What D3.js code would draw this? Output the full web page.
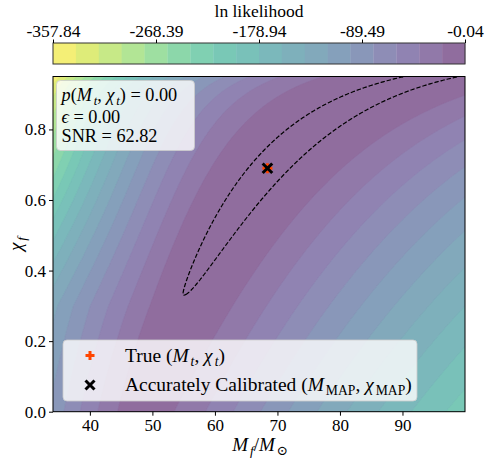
<!DOCTYPE html>
<html><head><meta charset="utf-8">
<script src="https://cdn.jsdelivr.net/npm/d3@7"></script>
<style>
body{margin:0;background:#fff}
svg{display:block}
</style>
</head><body><svg id="chart" width="489" height="462"></svg>
<script>
// ---------------- data ----------------
const colorbarTicks = [-357.84, -268.39, -178.94, -89.49, -0.04];
const colorbarTickLabels = ["-357.84", "-268.39", "-178.94", "-89.49", "-0.04"];
const lnLMin = -357.84, lnLMax = -0.04;
const nBands = 18;
const xTicks = [40, 50, 60, 70, 80, 90];
const yTicks = [0.0, 0.2, 0.4, 0.6, 0.8];
const massRange = [34.1, 100];
const spinRange = [0, 0.95];
const truePoint = [68.4, 0.69];      // True (M_t, chi_t)
const mapPoint = [68.4, 0.69];       // Accurately calibrated MAP
const statP = "0.00", statEps = "0.00", statSNR = "62.82";
const dashedLevel = -2.34;           // credible contour (dashed)
// likelihood-surface shape parameters (estimated from the contours)
const qnmFit = [1.5251, -1.1568, 0.1292];   // l=m=2 QNM frequency fit F(chi)
const leftWidth = [0.035, 0.8];             // at chi = 0.3 and chi = 0.95
const leftScale = [10, 565];
const rightWidth = 0.2, rightScale = 70.3;
const ridgeFall = [17.75, 15];              // below / above chi_t

const FONT = '"Liberation Serif", "DejaVu Serif", serif';

// ---------------- layout ----------------
const L = 53, R = 465, T = 76.5, B = 411.7;
const CB_T = 43, CB_B = 64;
const svg = d3.select("#chart");
svg.append("rect").attr("width", 489).attr("height", 462).attr("fill", "#fff");

const x = d3.scaleLinear().domain(massRange).range([L, R]);
const y = d3.scaleLinear().domain(spinRange).range([B, T]);

// ---------------- likelihood surface ----------------
const F = c => qnmFit[0] + qnmFit[1] * Math.pow(1 - c, qnmFit[2]);
const Ft = F(truePoint[1]);
function lnL(M, c) {
  const Mr = truePoint[0] * F(c) / Ft;
  const d = Math.log(M / Mr);
  const dc = c - truePoint[1];
  const Rv = lnLMax - (dc < 0 ? ridgeFall[0] : ridgeFall[1]) * dc * dc;
  let w, K;
  if (d < 0) {
    const t = Math.max(0, Math.min(1, (c - 0.3) / 0.65));
    w = Math.exp(Math.log(leftWidth[0]) * (1 - t) + Math.log(leftWidth[1]) * t);
    K = Math.exp(Math.log(leftScale[0]) * (1 - t) + Math.log(leftScale[1]) * t);
  } else { w = rightWidth; K = rightScale; }
  const q = d / w;
  return Rv - K * (Math.sqrt(1 + q * q) - 1);
}
const nx = Math.ceil(R - L) + 2, ny = Math.ceil(B - T) + 2;
const values = new Float64Array(nx * ny);
for (let j = 0; j < ny; j++) {
  const c = y.invert(T + j);
  for (let i = 0; i < nx; i++) values[j * nx + i] = lnL(x.invert(L + i), c);
}

const levels = d3.range(nBands + 1).map(k => lnLMin + k * (lnLMax - lnLMin) / nBands);
const alpha = 0.6;
const bandColor = k => {
  const c = d3.rgb(d3.interpolateViridis(1 - (k + 0.5) / nBands));
  return d3.rgb(c.r * alpha + 255 * (1 - alpha), c.g * alpha + 255 * (1 - alpha), c.b * alpha + 255 * (1 - alpha)).formatHex();
};

const defs = svg.append("defs");
defs.append("clipPath").attr("id", "plotclip").append("rect")
  .attr("x", L).attr("y", T).attr("width", R - L).attr("height", B - T);

const plot = svg.append("g").attr("clip-path", "url(#plotclip)");
plot.append("rect").attr("x", L).attr("y", T).attr("width", R - L).attr("height", B - T).attr("fill", bandColor(0));
const cg = plot.append("g").attr("transform", `translate(${L - 0.5},${T - 0.5})`);
const path = d3.geoPath();
const filled = d3.contours().size([nx, ny]).thresholds(levels.slice(1, nBands))(values);
filled.forEach((mp, idx) => {
  const k = idx + 1;
  cg.append("path").attr("d", path(mp)).attr("fill", bandColor(k))
    .attr("stroke", bandColor(k)).attr("stroke-width", 0.4);
});
const dashed = d3.contours().size([nx, ny]).thresholds([dashedLevel])(values)[0];
cg.append("path").attr("d", path(dashed)).attr("fill", "none")
  .attr("stroke", "#000").attr("stroke-width", 1.2).attr("stroke-dasharray", "4.4 1.9");

// markers
function plus(g, cx, cy, s, color, w) {
  g.append("path").attr("d", `M${cx - s},${cy}H${cx + s}M${cx},${cy - s}V${cy + s}`)
    .attr("stroke", color).attr("stroke-width", w).attr("fill", "none");
}
function cross(g, cx, cy, s, color, w) {
  g.append("path").attr("d", `M${cx - s},${cy - s}L${cx + s},${cy + s}M${cx - s},${cy + s}L${cx + s},${cy - s}`)
    .attr("stroke", color).attr("stroke-width", w).attr("fill", "none");
}
plus(plot, x(truePoint[0]), y(truePoint[1]), 5, "#ff4500", 3);
cross(plot, x(mapPoint[0]), y(mapPoint[1]), 4.8, "#000", 3);

// ---------------- math text helper ----------------
function mathText(parent, xp, yp, parts, size, anchor) {
  const t = parent.append("text").attr("x", xp).attr("y", yp)
    .style("font-family", FONT).style("white-space", "pre").attr("fill", "#000")
    .style("font-size", size + "px").attr("text-anchor", anchor || "start");
  let shift = 0, prevItal = false;
  parts.forEach(p => {
    const s = p[0], st = p[1] || "";
    const sub = st.includes("s"), ital = st.includes("i");
    const sp = t.append("tspan").text(s);
    const target = sub ? 0.22 * size : 0;
    if (target !== shift) { sp.attr("dy", target - shift); shift = target; }
    if (sub && prevItal) sp.attr("dx", 0.1 * size);
    if (sub) sp.style("font-size", (size * 0.7) + "px");
    if (ital) sp.style("font-style", "italic");
    prevItal = ital && !sub;
  });
  return t;
}
function fitted(parent, xp, yp, parts, size, anchor, targetW) {
  const t0 = mathText(parent, xp, yp, parts, size, anchor);
  const w = t0.node().getComputedTextLength();
  t0.remove();
  return size * targetW / w;
}

// ---------------- stats box ----------------
const line1 = [["p", "i"], ["("], ["M", "i"], ["t", "si"], [", "], ["χ", "i"], ["t", "si"], [") = " + statP]];
const line2 = [["ϵ", "i"], [" = " + statEps]];
const line3 = [["SNR = " + statSNR]];
const boxG = svg.append("g");
boxG.append("rect").attr("x", 56.5).attr("y", 80.5).attr("width", 138).attr("height", 70).attr("rx", 4)
  .attr("fill", "#fff").attr("fill-opacity", 0.8).attr("stroke", "#ccc").attr("stroke-opacity", 0.8);
const sBox = fitted(boxG, 61.5, 142, line3, 18, "start", 96);
mathText(boxG, 61.5, 101, line1, sBox);
mathText(boxG, 61.5, 122.5, line2, sBox);
mathText(boxG, 61.5, 142, line3, sBox);

// ---------------- legend ----------------
const legG = svg.append("g");
legG.append("rect").attr("x", 63).attr("y", 340).attr("width", 354).attr("height", 61).attr("rx", 4)
  .attr("fill", "#fff").attr("fill-opacity", 0.8).attr("stroke", "#ccc").attr("stroke-opacity", 0.8);
plus(legG, 90, 355.5, 4.5, "#ff4500", 3);
cross(legG, 90, 385, 4.5, "#000", 3);
const leg1 = [["True ("], ["M", "i"], ["t", "si"], [", "], ["χ", "i"], ["t", "si"], [")"]];
const leg2 = [["Accurately Calibrated ("], ["M", "i"], ["MAP", "s"], [", "], ["χ", "i"], ["MAP", "s"], [")"]];
const sLeg = fitted(legG, 125, 391, leg2, 18, "start", 283);
mathText(legG, 125, 361.5, leg1, sLeg);
mathText(legG, 125, 391, leg2, sLeg);

// ---------------- frame & axes ----------------
svg.append("rect").attr("x", L).attr("y", T).attr("width", R - L).attr("height", B - T)
  .attr("fill", "none").attr("stroke", "#000").attr("stroke-width", 1);

function styleAxis(g, size) {
  g.attr("font-family", null).attr("font-size", null);
  g.select(".domain").remove();
  g.selectAll(".tick line").attr("stroke", "#000");
  g.selectAll(".tick text").style("font-family", FONT).style("font-size", size + "px").attr("fill", "#000");
}
const xAxis = d3.axisBottom(x).tickValues(xTicks).tickSize(4).tickPadding(3).tickFormat(d3.format("d"));
const gx = svg.append("g").attr("transform", `translate(0,${B})`).call(xAxis);
const yAxis = d3.axisLeft(y).tickValues(yTicks).tickSize(4).tickPadding(3).tickFormat(d3.format(".1f"));
const gy = svg.append("g").attr("transform", `translate(${L},0)`).call(yAxis);
styleAxis(gx, 17); styleAxis(gy, 17);

const xl = [["M", "i"], ["f", "si"], ["/"], ["M", "i"], ["⊙", "s"]];
mathText(svg, 260, 451, xl, 19, "middle");
const yl = svg.append("g").attr("transform", "translate(22,244) rotate(-90)");
mathText(yl, 0, 0, [["χ", "i"], ["f", "si"]], 19, "middle");

// ---------------- colorbar ----------------
const cb = d3.scaleLinear().domain([lnLMin, lnLMax]).range([L, R]);
const cbG = svg.append("g");
d3.range(nBands).forEach(k => {
  cbG.append("rect").attr("x", cb(levels[k])).attr("y", CB_T)
    .attr("width", cb(levels[k + 1]) - cb(levels[k]) + 0.3).attr("height", CB_B - CB_T)
    .attr("fill", bandColor(k));
});
cbG.append("rect").attr("x", L).attr("y", CB_T).attr("width", R - L).attr("height", CB_B - CB_T)
  .attr("fill", "none").attr("stroke", "#333").attr("stroke-width", 1);
const cbAxis = d3.axisTop(cb).tickValues(colorbarTicks).tickSize(3.5).tickPadding(3)
  .tickFormat((d, i) => colorbarTickLabels[i]);
const gcb = svg.append("g").attr("transform", `translate(0,${CB_T})`).call(cbAxis);
styleAxis(gcb, 17.5);
mathText(svg, 259, 17, [["ln likelihood"]], 17.5, "middle");
</script>
</body></html>
